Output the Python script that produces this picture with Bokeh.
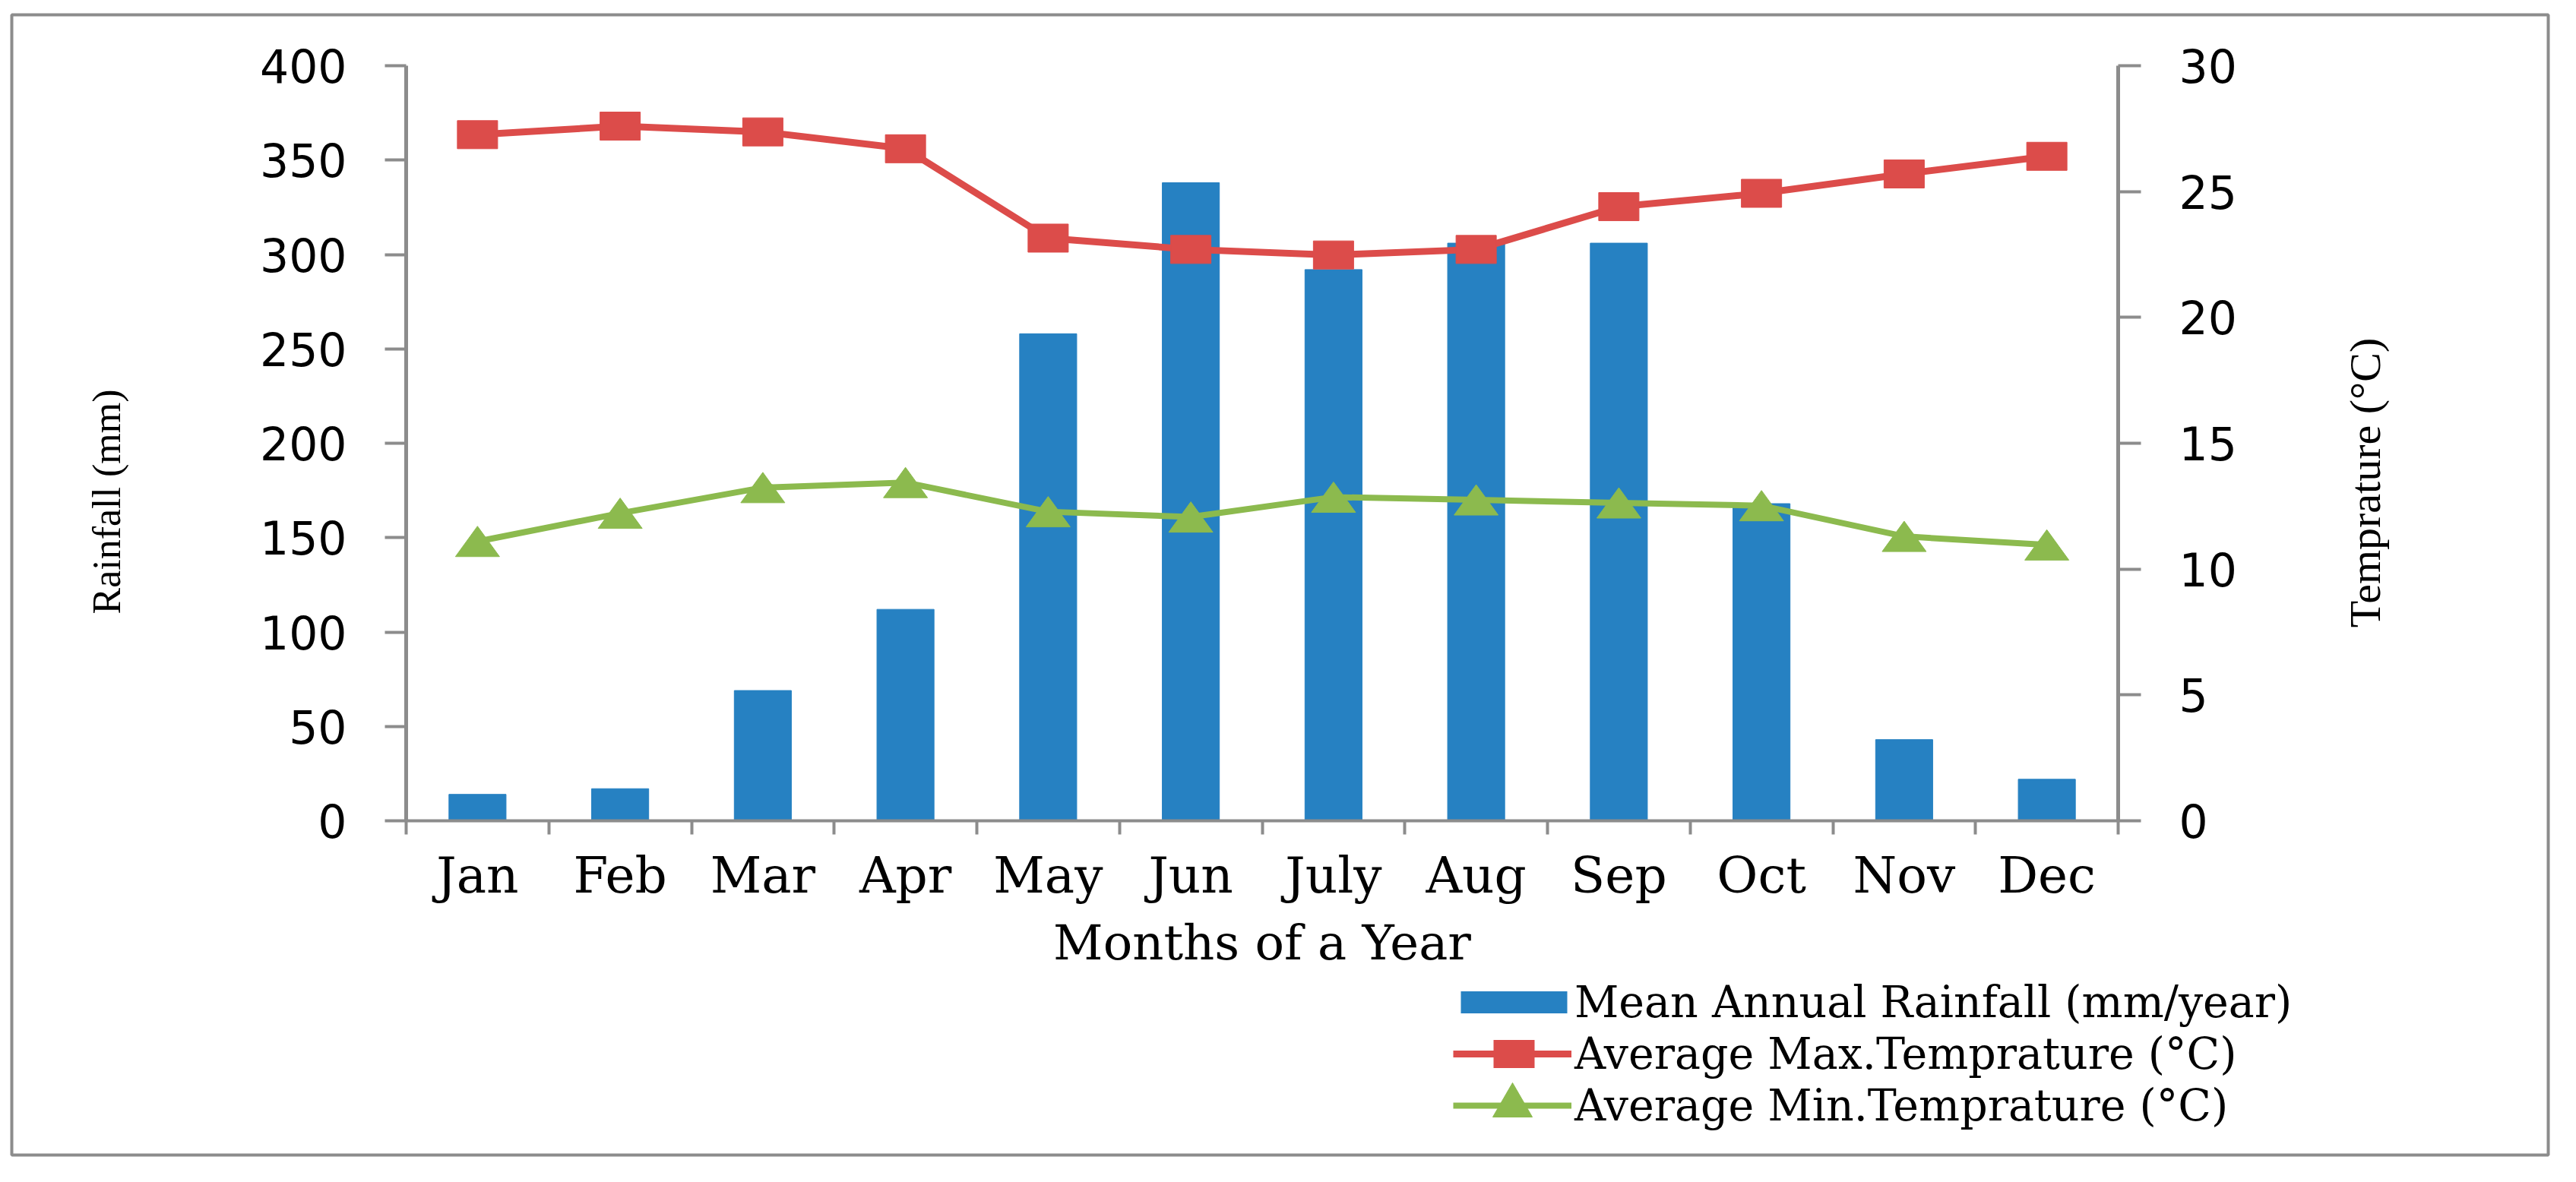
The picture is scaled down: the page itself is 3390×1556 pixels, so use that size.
import numpy as np
from bokeh.plotting import figure
from bokeh.models import Range1d, LinearAxis, FixedTicker, Label, Legend, LegendItem
from bokeh.embed import file_html
from bokeh.resources import INLINE

# ---------------- data ----------------
months = ["Jan", "Feb", "Mar", "Apr", "May", "Jun", "July", "Aug", "Sep", "Oct", "Nov", "Dec"]
rainfall = [14, 17, 69, 112, 258, 338, 292, 306, 306, 168, 43, 22]
max_temp = [27.26, 27.6, 27.37, 26.7, 23.15, 22.7, 22.48, 22.7, 24.4, 24.93, 25.7, 26.4]
min_temp = [11.1, 12.22, 13.24, 13.44, 12.28, 12.07, 12.86, 12.75, 12.63, 12.52, 11.3, 10.96]
rain_ticks = [0, 50, 100, 150, 200, 250, 300, 350, 400]
temp_ticks = [0, 5, 10, 15, 20, 25, 30]

# ---------------- style / layout (page pixels) ----------------
BLUE = "#2681C2"
RED = "#DC4C4A"
GREEN = "#8CBA4E"
GREY = "#8C8C8C"
SERIF = "DejaVu Serif"
SERIF2 = "Liberation Serif"
SANS = "DejaVu Sans"

PAGE = 8                      # page margin
CW, CH = 3374, 1540           # canvas size
BOX_L, BOX_T, BOX_R, BOX_B = 23, 27, 3361, 1528     # outer chart border (frame)
PL, PT, PR, PB = 542, 94, 2795, 1088                # plot area

n = len(months)
xc = np.arange(n) + 0.5
hidden = np.full(n, np.nan)   # legend-only proxies (not drawn in the plot)

ppx = (PR - PL) / n                                   # px per category
ppy_r = (PB - PT) / (rain_ticks[-1] - rain_ticks[0])  # px per mm
ppy_t = (PB - PT) / (temp_ticks[-1] - temp_ticks[0])  # px per degree

def px_x(px):
    return (px - PL) / ppx

def px_y(py):
    return rain_ticks[0] + (PB - py) / ppy_r

x_range = Range1d(px_x(BOX_L), px_x(BOX_R))
y_range = Range1d(px_y(BOX_B), px_y(BOX_T))
t_range = Range1d(temp_ticks[0] + (PB - BOX_B) / ppy_t, temp_ticks[0] + (PB - BOX_T) / ppy_t)

p = figure(width=CW, height=CH, x_range=x_range, y_range=y_range,
           output_backend="svg", toolbar_location=None,
           min_border_left=BOX_L - PAGE, min_border_top=BOX_T - PAGE,
           min_border_right=CW - (BOX_R - PAGE), min_border_bottom=CH - (BOX_B - PAGE))
p.extra_y_ranges = {"temp": t_range}
p.xgrid.grid_line_color = None
p.ygrid.grid_line_color = None
p.outline_line_color = GREY
p.outline_line_width = 4
p.background_fill_color = "white"
p.border_fill_color = "white"

# x axis
xa = p.xaxis[0]
xa.fixed_location = rain_ticks[0]
xa.bounds = (0, n)
xa.ticker = FixedTicker(ticks=list(xc), minor_ticks=list(range(n + 1)))
xa.major_label_overrides = {float(c): m for c, m in zip(xc, months)}
xa.major_tick_out = 0
xa.major_tick_in = 0
xa.minor_tick_out = 18
xa.minor_tick_in = 0
xa.minor_tick_line_color = GREY
xa.minor_tick_line_width = 4
xa.axis_line_color = GREY
xa.axis_line_width = 4
xa.major_label_text_font = SERIF
xa.major_label_text_font_size = "66px"
xa.major_label_text_color = "black"
xa.major_label_standoff = 15
xa.axis_label = "Months of a Year"
xa.axis_label_text_font = SERIF
xa.axis_label_text_font_size = "64px"
xa.axis_label_text_font_style = "normal"
xa.axis_label_text_color = "black"
xa.axis_label_standoff = 10

# left axis
ya = p.yaxis[0]
ya.fixed_location = 0
ya.bounds = (rain_ticks[0], rain_ticks[-1])
ya.ticker = FixedTicker(ticks=rain_ticks, minor_ticks=[])
ya.major_tick_out = 28
ya.major_tick_in = 0
ya.major_tick_line_color = GREY
ya.major_tick_line_width = 4
ya.axis_line_color = GREY
ya.axis_line_width = 5
ya.major_label_text_font = SANS
ya.major_label_text_font_size = "60px"
ya.major_label_text_color = "black"
ya.major_label_standoff = 50

# right axis
ra = LinearAxis(y_range_name="temp", ticker=FixedTicker(ticks=temp_ticks, minor_ticks=[]))
ra.fixed_location = n
ra.bounds = (temp_ticks[0], temp_ticks[-1])
ra.major_tick_out = 30
ra.major_tick_in = 0
ra.major_tick_line_color = GREY
ra.major_tick_line_width = 4
ra.axis_line_color = GREY
ra.axis_line_width = 5
ra.major_label_text_font = SANS
ra.major_label_text_font_size = "60px"
ra.major_label_text_color = "black"
ra.major_label_standoff = 50
p.add_layout(ra, "right")

# ---------------- glyphs ----------------
p.vbar(x=xc, top=rainfall, width=0.4, fill_color=BLUE, line_color=BLUE)

r_max = p.line(xc, max_temp, y_range_name="temp", line_color=RED, line_width=9)
p.rect(xc, max_temp, width=53, height=37, width_units="screen", height_units="screen",
       fill_color=RED, line_color=RED, y_range_name="temp")

r_min = p.line(xc, min_temp, y_range_name="temp", line_color=GREEN, line_width=8)
hw = 29.0 / ppx
hh = 20.0 / ppy_t
tri_xs = [[c - hw, c + hw, c] for c in xc]
tri_ys = [[t - hh, t - hh, t + hh] for t in min_temp]
p.patches(tri_xs, tri_ys, y_range_name="temp", fill_color=GREEN, line_color=GREEN)

# ---------------- legend (one Legend per row) ----------------
leg_blue = p.line(x=xc, y=hidden, line_color=BLUE, line_width=29, line_dash="0 10 140 10")
leg_sq = p.line(x=xc, y=hidden, line_color=RED, line_width=37, line_dash="0 53 54 49",
                y_range_name="temp")
leg_tri = p.scatter(x=xc, y=hidden, marker="triangle", fill_color=GREEN, line_color=GREEN,
                    y_range_name="temp")

GH = 130
LEG_X = 1920
rows = [
    ("Mean Annual Rainfall (mm/year)", [leg_blue], 1327),
    ("Average Max.Temprature (°C)", [r_max, leg_sq], 1395),
    ("Average Min.Temprature (°C)", [r_min, leg_tri], 1463),
]
for label, rends, cy in rows:
    lg = Legend(items=[LegendItem(label=label, renderers=rends)],
                location=(LEG_X - BOX_L, BOX_B - (cy + GH // 2)),
                glyph_width=156, glyph_height=GH, spacing=0,
                padding=0, margin=0, label_standoff=4,
                label_text_font=SERIF, label_text_font_size="57px", label_text_color="black",
                border_line_alpha=0, background_fill_alpha=0)
    p.add_layout(lg, "center")

# ---------------- axis titles ----------------
p.add_layout(Label(x=px_x(148), y=px_y(668), text="Rainfall (mm)",
                   angle=np.pi / 2, text_align="center", text_baseline="middle",
                   text_font=SERIF2, text_font_size="52px", text_color="black"))
p.add_layout(Label(x=px_x(3120), y=px_y(643), text="Temprature (°C)",
                   angle=np.pi / 2, text_align="center", text_baseline="middle",
                   text_font=SERIF2, text_font_size="58px", text_color="black"))

open("out.html", "w").write(file_html(p, INLINE))
